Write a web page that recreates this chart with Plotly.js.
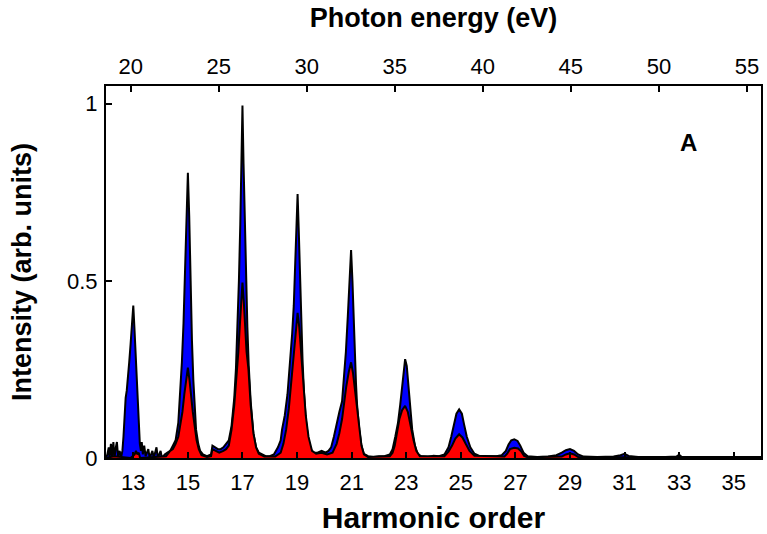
<!DOCTYPE html>
<html>
<head>
<meta charset="utf-8">
<script src="https://cdn.plot.ly/plotly-3.0.1.min.js"></script>
<style>html,body{margin:0;padding:0;background:#fff;}#chart{width:767px;height:534px;}</style>
</head>
<body>
<div id="chart"></div>
<script>
// Harmonic order sample positions and intensities
var blueX = [12.0,12.05,12.1,12.13,12.18,12.22,12.27,12.31,12.36,12.4,12.44,12.5,12.55,12.6,12.64,12.68,12.72,12.76,12.8,12.85,12.9,12.95,13.0,13.04,13.08,13.12,13.16,13.2,13.24,13.28,13.31,13.35,13.4,13.45,13.55,13.6,13.7,13.75,13.85,13.9,14.0,14.05,14.15,14.25,14.35,14.45,14.55,14.65,14.72,14.78,14.84,14.9,14.95,15.0,15.05,15.1,15.15,15.2,15.25,15.3,15.38,15.45,15.55,15.7,15.85,15.9,16.0,16.1,16.2,16.3,16.4,16.5,16.6,16.7,16.76,16.82,16.87,16.92,16.96,17.0,17.04,17.08,17.13,17.18,17.23,17.3,17.4,17.5,17.6,17.7,17.85,18.0,18.15,18.3,18.4,18.45,18.55,18.65,18.75,18.82,18.88,18.94,18.98,19.02,19.06,19.1,19.15,19.2,19.25,19.32,19.4,19.5,19.6,19.75,19.9,20.05,20.15,20.25,20.35,20.45,20.55,20.65,20.72,20.79,20.86,20.92,20.98,21.03,21.07,21.11,21.16,21.2,21.28,21.36,21.45,21.6,21.8,22.0,22.2,22.4,22.5,22.6,22.7,22.78,22.85,22.91,22.96,23.02,23.08,23.14,23.22,23.32,23.42,23.55,23.8,24.0,24.2,24.4,24.55,24.65,24.75,24.84,24.94,25.04,25.12,25.22,25.35,25.5,25.7,26.0,26.3,26.5,26.65,26.75,26.85,26.96,27.08,27.18,27.3,27.45,27.8,28.2,28.5,28.7,28.85,29.0,29.15,29.3,29.5,30.0,30.6,30.85,31.0,31.15,31.5,32.5,32.9,33.0,33.1,34.0,35.0,36.0];
var blueY = [0.0,0.01,0.03,0.0,0.04,0.005,0.045,0.0,0.03,0.045,0.005,0.02,0.0,0.02,0.06,0.12,0.17,0.19,0.22,0.27,0.32,0.38,0.43,0.37,0.3,0.22,0.14,0.08,0.04,0.02,0.045,0.01,0.035,0.005,0.025,0.0,0.02,0.0,0.03,0.0,0.02,0.0,0.01,0.015,0.02,0.035,0.05,0.1,0.18,0.27,0.38,0.52,0.68,0.805,0.68,0.48,0.33,0.22,0.14,0.08,0.04,0.02,0.01,0.005,0.01,0.035,0.03,0.025,0.025,0.03,0.04,0.05,0.09,0.17,0.25,0.36,0.5,0.66,0.83,0.995,0.83,0.67,0.5,0.37,0.26,0.16,0.07,0.03,0.015,0.01,0.005,0.005,0.01,0.03,0.05,0.08,0.12,0.18,0.27,0.35,0.43,0.57,0.67,0.745,0.65,0.52,0.4,0.28,0.19,0.11,0.06,0.025,0.015,0.015,0.02,0.015,0.02,0.03,0.06,0.1,0.13,0.16,0.22,0.3,0.4,0.5,0.587,0.5,0.4,0.3,0.21,0.15,0.08,0.035,0.012,0.005,0.003,0.005,0.005,0.01,0.025,0.06,0.1,0.15,0.2,0.255,0.279,0.26,0.2,0.14,0.08,0.035,0.012,0.005,0.003,0.006,0.005,0.01,0.03,0.06,0.095,0.125,0.137,0.125,0.095,0.06,0.03,0.012,0.005,0.004,0.005,0.008,0.02,0.038,0.05,0.053,0.048,0.035,0.015,0.005,0.003,0.004,0.008,0.015,0.022,0.025,0.02,0.01,0.004,0.003,0.004,0.008,0.012,0.006,0.003,0.003,0.004,0.009,0.003,0.003,0.003,0.003];

var redX = [12.0,12.3,12.9,13.05,13.1,13.15,13.2,13.25,14.2,14.35,14.45,14.55,14.65,14.74,14.8,14.87,14.93,15.0,15.06,15.12,15.18,15.25,15.32,15.4,15.5,15.7,15.85,15.9,16.0,16.15,16.3,16.4,16.5,16.6,16.7,16.8,16.85,16.9,16.95,17.0,17.05,17.1,17.15,17.22,17.3,17.4,17.5,17.6,17.8,18.2,18.4,18.5,18.6,18.7,18.78,18.86,18.94,19.02,19.08,19.15,19.24,19.32,19.42,19.55,19.7,19.9,20.1,20.3,20.45,20.55,20.65,20.72,20.8,20.9,20.98,21.05,21.12,21.2,21.28,21.36,21.45,21.6,22.4,22.5,22.58,22.66,22.75,22.85,22.96,23.06,23.16,23.27,23.37,23.5,24.4,24.55,24.68,24.8,24.94,25.06,25.18,25.32,25.5,26.6,26.7,26.8,26.96,27.1,27.22,27.32,27.45,28.7,28.85,29.0,29.15,29.3,36.0];
var redY = [0.0,0.005,0.0,0.01,0.02,0.01,0.015,0.0,0.005,0.02,0.025,0.04,0.06,0.1,0.13,0.18,0.22,0.255,0.22,0.17,0.13,0.09,0.05,0.025,0.008,0.003,0.005,0.025,0.02,0.015,0.02,0.025,0.035,0.08,0.15,0.24,0.3,0.37,0.44,0.495,0.44,0.37,0.3,0.25,0.15,0.07,0.03,0.012,0.004,0.004,0.015,0.04,0.08,0.14,0.21,0.29,0.36,0.41,0.37,0.29,0.2,0.12,0.06,0.02,0.012,0.015,0.01,0.015,0.04,0.07,0.11,0.16,0.2,0.245,0.27,0.24,0.19,0.14,0.08,0.035,0.01,0.003,0.005,0.015,0.035,0.07,0.11,0.135,0.147,0.13,0.09,0.05,0.02,0.005,0.005,0.018,0.035,0.055,0.067,0.058,0.04,0.02,0.006,0.004,0.012,0.025,0.029,0.027,0.018,0.006,0.002,0.004,0.01,0.013,0.01,0.003,0.0];

var orderTicks = [13,15,17,19,21,23,25,27,29,31,33,35];
var energyTicks = [20,25,30,35,40,45,50,55];
var yTicks = [0,0.5,1];
var yTickLabels = ['0','0.5','1'];
var eVPerOrder = 1.55;
var orderRange = [12,36];

var F = '"Liberation Sans", Arial, Helvetica, sans-serif';

var traces = [
  {x: blueX, y: blueY, type: 'scatter', mode: 'lines', fill: 'tozeroy',
   fillcolor: '#0000ff', line: {color: '#000', width: 2}, hoverinfo: 'skip', showlegend: false},
  {x: redX, y: redY, type: 'scatter', mode: 'lines', fill: 'tozeroy',
   fillcolor: '#ff0000', line: {color: '#000', width: 2}, hoverinfo: 'skip', showlegend: false},
  {x: [orderRange[0]*eVPerOrder, orderRange[1]*eVPerOrder], y: [0,0], xaxis: 'x2', type: 'scatter',
   mode: 'lines', line: {width: 0, color: 'rgba(0,0,0,0)'}, hoverinfo: 'skip', showlegend: false}
];

var layout = {
  width: 767, height: 534,
  margin: {l: 106, r: 6, t: 86, b: 76},
  paper_bgcolor: '#fff', plot_bgcolor: '#fff',
  font: {family: F, size: 22, color: '#000'},
  xaxis: {
    range: orderRange, tickvals: orderTicks, ticks: 'inside', ticklen: 6, tickwidth: 2, tickcolor: '#000',
    showline: true, linewidth: 2, linecolor: '#000', mirror: true, showgrid: false, zeroline: false,
    tickfont: {family: F, size: 22}, ticklabelstandoff: 4, automargin: false,
    title: {text: '<b>Harmonic order</b>', font: {family: F, size: 30}, standoff: 13}
  },
  xaxis2: {
    overlaying: 'x', side: 'top', anchor: 'y', automargin: false,
    range: [orderRange[0]*eVPerOrder, orderRange[1]*eVPerOrder], tickvals: energyTicks,
    ticks: 'inside', ticklen: 6, tickwidth: 2, tickcolor: '#000', showline: false,
    showgrid: false, zeroline: false, tickfont: {family: F, size: 22}, ticklabelstandoff: 7,
    title: {text: '<b>Photon energy (eV)</b>', font: {family: F, size: 27}, standoff: 18}
  },
  yaxis: {
    range: [0, 1.05], tickvals: yTicks, ticktext: yTickLabels, ticks: 'inside', ticklen: 6, tickwidth: 2,
    tickcolor: '#000', showline: true, linewidth: 2, linecolor: '#000', mirror: true, automargin: false,
    showgrid: false, zeroline: false, tickfont: {family: F, size: 22}, ticklabelstandoff: 2,
    title: {text: '<b>Intensity (arb. units)</b>', font: {family: F, size: 27}, standoff: 28}
  },
  annotations: [
    {x: 0.89, y: 0.847, xref: 'paper', yref: 'paper', xanchor: 'center', yanchor: 'middle',
     text: '<b>A</b>', showarrow: false, font: {family: F, size: 24, color: '#000'}}
  ]
};

Plotly.newPlot('chart', traces, layout, {displayModeBar: false, staticPlot: true});
</script>
</body>
</html>
